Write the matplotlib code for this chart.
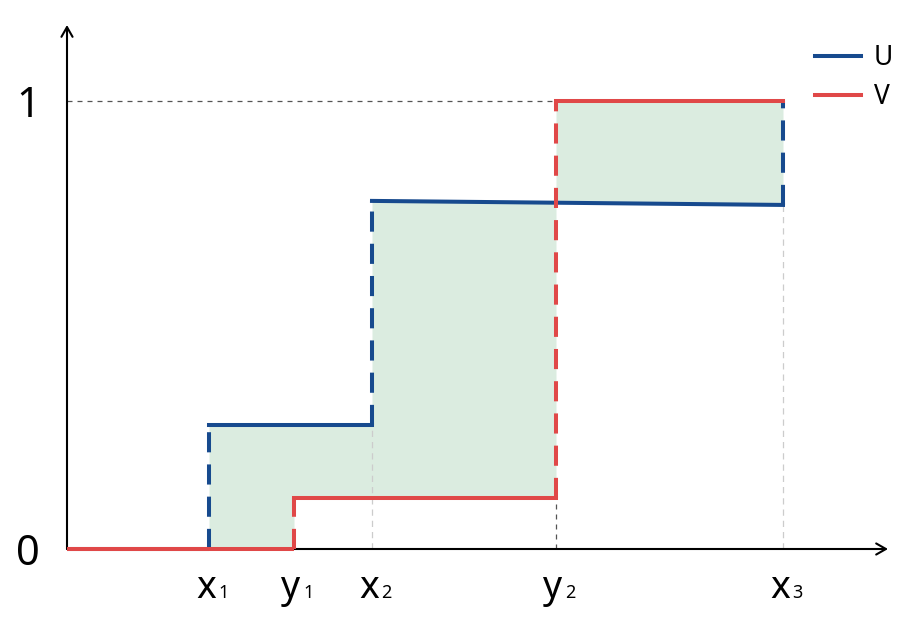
import matplotlib
matplotlib.use("Agg")
import matplotlib.pyplot as plt
import numpy as np
from matplotlib.lines import Line2D

plt.rcParams['font.family'] = ['Noto Sans', 'DejaVu Sans']

# ---- data ----
tick_names = ["x", "y", "x", "y", "x"]
tick_subs = ["1", "1", "2", "2", "3"]
tick_pos = [1.42, 2.27, 3.05, 4.89, 7.16]       # x1, y1, x2, y2, x3
x1, y1, x2, y2, x3 = tick_pos
u_jump_x = [x1, x2, x3]
u_levels_start = [0.277, 0.777, 1.0]            # level reached after each jump
u_levels_end = [0.277, 0.768, 1.0]              # (U's middle level slopes slightly)
v_jump_x = [y1, y2]
v_levels = [0.114, 1.0]
y_ticks = [0, 1]

BLUE = "#174a8e"
RED = "#e04848"
FILL = "#dbece0"
DARK = "#555555"
LIGHT = "#cccccc"

fig = plt.figure(figsize=(9.02, 6.24), dpi=100)
ax = fig.add_axes([0, 0, 1, 1])
ax.set_xlim(-0.67, 8.35)
ax.set_ylim((549 - 624) / 448, 549 / 448)
ax.axis("off")

LW = 2.9
DASH = (0, (5, 3))

# --- fill between U and V ---
u_mid = lambda x: u_levels_start[1] + (u_levels_end[1] - u_levels_start[1]) * (x - x2) / (x3 - x2)
xf = [x1, y1, y1, x2, x2, y2, y2, x3]
uf = [u_levels_start[0], u_levels_end[0], u_levels_end[0], u_levels_end[0],
      u_levels_start[1], u_mid(y2), u_mid(y2), u_levels_end[1]]
vf = [0, 0, v_levels[0], v_levels[0], v_levels[0], v_levels[0], v_levels[1], v_levels[1]]
ax.fill_between(xf, uf, vf, color=FILL, lw=0, zorder=1)

# --- guide lines ---
ax.plot([0, y2], [1, 1], color=DARK, lw=0.9, ls=(0, (4, 4)), zorder=1.5)
ax.plot([y2, y2], [0, v_levels[0]], color=DARK, lw=0.9, ls=(0, (4, 4)), zorder=1.5)
ax.plot([x2, x2], [0, u_levels_end[0]], color=LIGHT, lw=0.9, ls=(0, (5, 4)), zorder=1.5)
ax.plot([x3, x3], [0, u_levels_end[1]], color=LIGHT, lw=0.9, ls=(0, (5, 4)), zorder=1.5)

# --- axes with arrows ---
arrow = dict(arrowstyle="->,head_length=0.7,head_width=0.4", lw=1.5, color="black",
             shrinkA=0, shrinkB=0)
ax.annotate("", xy=(8.21, 0), xytext=(0, 0), arrowprops=arrow, zorder=2)
ax.annotate("", xy=(0, 524 / 448), xytext=(0, 0), arrowprops=arrow, zorder=2)

# --- U (blue) ---
ax.plot([0, x1], [0, 0], color=BLUE, lw=LW, solid_capstyle="butt", zorder=3)
ax.plot([x1, x2], [u_levels_start[0], u_levels_end[0]], color=BLUE, lw=LW, zorder=3)
ax.plot([x2, x3], [u_levels_start[1], u_levels_end[1]], color=BLUE, lw=LW, zorder=3)
prev = [0, u_levels_end[0], u_levels_end[1]]
for xj, lo, hi in zip(u_jump_x, prev, u_levels_start):
    ax.plot([xj, xj], [lo, hi], color=BLUE, lw=LW, ls=DASH, zorder=3)

# --- V (red) ---
ax.plot([0, y1], [0, 0], color=RED, lw=LW, solid_capstyle="butt", zorder=4)
ax.plot([y1, y2], [v_levels[0], v_levels[0]], color=RED, lw=LW, zorder=4)
ax.plot([y2, x3], [v_levels[1], v_levels[1]], color=RED, lw=LW, zorder=4)
vprev = [0, v_levels[0]]
for xj, lo, hi in zip(v_jump_x, vprev, v_levels):
    ax.plot([xj, xj], [lo, hi], color=RED, lw=LW, ls=DASH, zorder=4)

# --- tick labels ---
for yt in y_ticks:
    ax.text(-0.27, yt, str(yt), fontsize=30, ha="right", va="center_baseline", color="black")

ybase = (549 - 598) / 448
for name, sub, xp in zip(tick_names, tick_subs, tick_pos):
    ax.text(xp - 0.03, ybase, name, fontsize=27, ha="center", va="baseline", color="black")
    ax.text(xp + 0.09, ybase, sub, fontsize=13, ha="left", va="baseline", color="black")

# --- legend ---
handles = [Line2D([], [], color=BLUE, lw=LW), Line2D([], [], color=RED, lw=LW)]
leg = ax.legend(handles, ["U", "V"], loc="upper right", bbox_to_anchor=(1.002, 0.946),
                frameon=False, fontsize=19, handlelength=1.75, handletextpad=0.5,
                labelspacing=0.4, borderaxespad=0)

fig.savefig("out.png", dpi=100)
